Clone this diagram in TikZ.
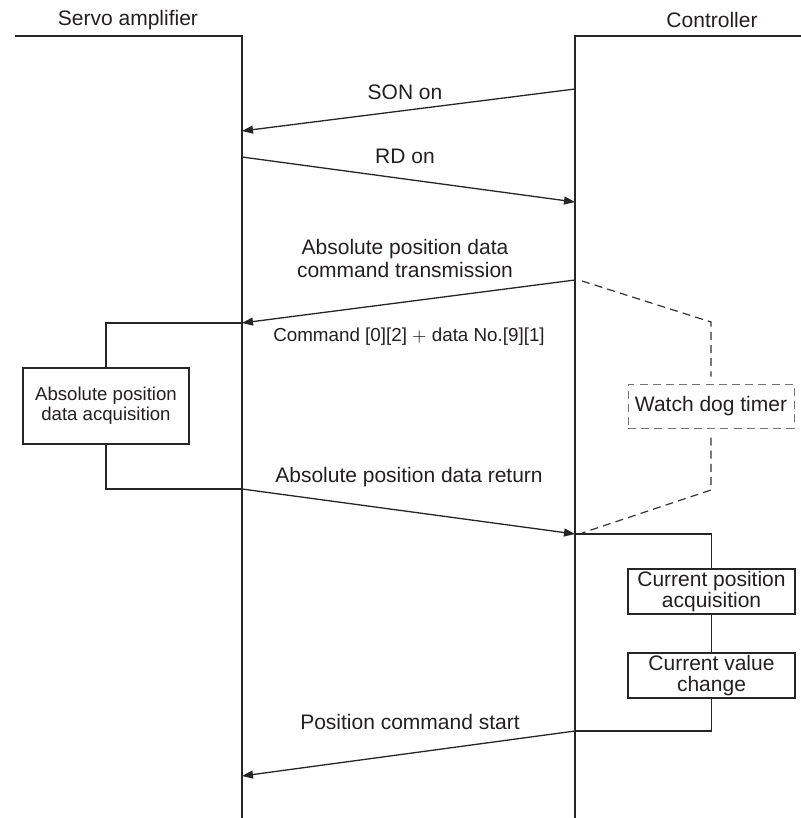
\documentclass[tikz,border=0pt]{standalone}
\usepackage{fontspec}
\setmainfont{Liberation Sans}
\usetikzlibrary{arrows.meta, positioning}
\definecolor{ink}{RGB}{35,31,32}
\tikzset{
    line/.style = {draw=black!85, line width=0.65pt},
    message/.style = {line, -{Triangle[length=5.5pt, width=4pt]}},
    watchline/.style = {draw=black!80, line width=0.6pt, dash pattern=on 4pt off 2.6pt},
    label/.style = {text=ink, font=\fontsize{10.5}{11.5}\selectfont, align=center, inner sep=0pt},
    smalllabel/.style = {text=ink, font=\fontsize{9.4}{11}\selectfont, inner sep=0pt},
    procbox/.style = {rectangle, draw=black!85, line width=0.65pt, fill=white, text=ink,
                      align=center, inner sep=0pt, font=\fontsize{10.5}{10.5}\selectfont},
    watchbox/.style = {rectangle, draw=black!55, line width=0.5pt, dash pattern=on 4pt off 2.6pt,
                       text=ink, inner sep=0pt, font=\fontsize{10.5}{11.5}\selectfont},
}
\begin{document}
\begin{tikzpicture}[x=0.5pt, y=-0.5pt]
\useasboundingbox (0,0) rectangle (801,818);

% Lifelines
\node (amp) [label] at (128,20) {Servo amplifier};
\node (ctl) [label] at (712,20) {Controller};
\coordinate (ampL) at (15,36);
\coordinate (ampT) at (242,36);
\coordinate (ampB) at (242,818);
\coordinate (ctlR) at (801,36);
\coordinate (ctlT) at (575,36);
\coordinate (ctlB) at (575,818);
\draw[line] (ampL) -- (ampT) -- (ampB);
\draw[line] (ctlR) -- (ctlT) -- (ctlB);

% Message end points
\coordinate (sonC) at (575,89);   \coordinate (sonA) at (242,131);
\coordinate (rdA)  at (242,157);  \coordinate (rdC)  at (575,202);
\coordinate (cmdC) at (575,280);  \coordinate (cmdA) at (242,323);
\coordinate (retA) at (242,489);  \coordinate (retC) at (575,534);
\coordinate (posC) at (575,731);  \coordinate (posA) at (242,776);
\coordinate (wdS)  at (582,281);  \coordinate (wdU)  at (711,322);
\coordinate (wdD)  at (711,490);  \coordinate (wdE)  at (582,533);

% Labels
\node (son) [label] at (405,92) {SON on};
\node (rd) [label] at (405,156) {RD on};
\node (cmd) [label] at (405,258) {Absolute position data\\command transmission};
\node (cmddata) [smalllabel] at (409,337) {Command [0][2] $+$ data No.[9][1]};
\node (ret) [label] at (409,477) {Absolute position data return};
\node (pos) [label] at (410,722) {Position command start};

% Boxes
\node (acq) [procbox, minimum width=83pt, minimum height=38pt,
             font=\fontsize{9.3}{10}\selectfont] at (106,406) {Absolute position\\data acquisition};
\node (wdt) [watchbox, minimum width=83pt, minimum height=22pt] at (711,406) {Watch dog timer};
\node (curpos) [procbox, minimum width=83.5pt, minimum height=22.5pt] at (711.5,591.5) {Current position\\acquisition};
\node (curval) [procbox, minimum width=83.5pt, minimum height=22.5pt] at (711.5,675.5) {Current value\\change};

% Arrows
\draw[message] (sonC) -- (sonA);
\draw[message] (rdA) -- (rdC);
\draw[message] (cmdC) -- (cmdA);
\draw[line] (cmdA) -| (acq.north);
\draw[line] (acq.south) |- (retA);
\draw[message] (retA) -- (retC);
\draw[line] (retC) -| (curpos.north);
\draw[line] (curpos) -- (curval);
\draw[line] (curval.south) |- (posC);
\draw[message] (posC) -- (posA);

% Watch dog
\draw[watchline, shorten >=3.5pt] (wdS) -- (wdU) -- (wdt.north);
\draw[watchline, shorten <=4.5pt] (wdt.south) -- (wdD) -- (wdE);
\end{tikzpicture}
\end{document}
